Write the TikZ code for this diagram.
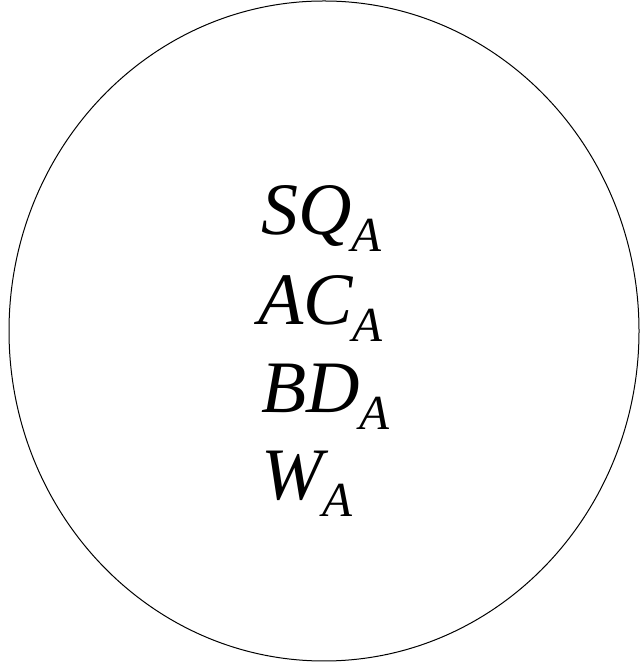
\documentclass[tikz,border=0pt]{standalone}
\usepackage{fontspec}
\setmainfont{Liberation Serif}
\newcommand{\subA}{\raisebox{-17pt}{\fontsize{49}{49}\selectfont\itshape A}}
\tikzset{lbl/.style={anchor=base west, inner sep=0pt, font=\fontsize{74}{74}\selectfont\itshape}}
\begin{document}
\begin{tikzpicture}[x=1pt,y=1pt]
\useasboundingbox (0,0) rectangle (640,663);
\draw[line width=1pt] (324,332) ellipse [x radius=315, y radius=330];
\node[lbl] (sq) at (261,428) {SQ\subA};
\node[lbl] (ac) at (258,338) {AC\subA};
\node[lbl] (bd) at (261,250) {BD\subA};
\node[lbl] (w) at (261,163) {W\subA};
\end{tikzpicture}
\end{document}
